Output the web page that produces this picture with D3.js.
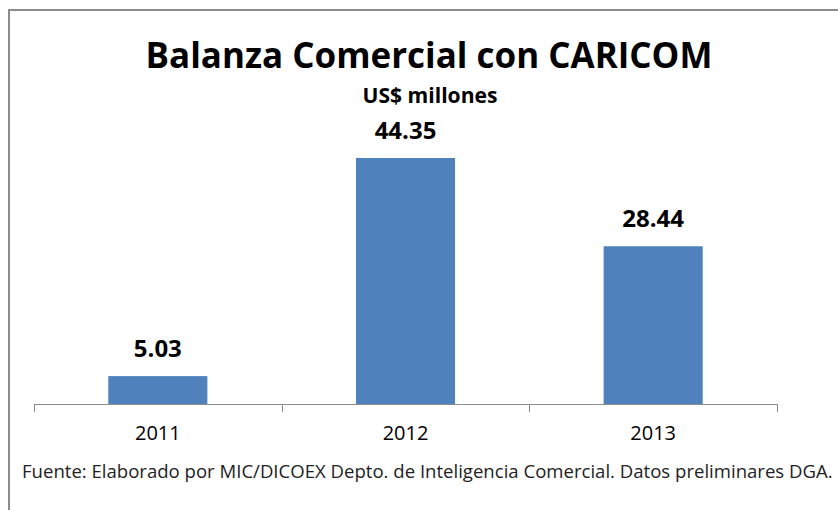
<!DOCTYPE html>
<html>
<head>
<meta charset="utf-8">
<script src="https://cdn.jsdelivr.net/npm/d3@7"></script>
<style>
  body { margin: 0; background: #fff; }
  svg text { font-family: "Open Sans", "Noto Sans", sans-serif; }
</style>
</head>
<body>
<div class="chart"></div>
<script>
var years = ["2011", "2012", "2013"];
var values = [5.03, 44.35, 28.44];
var valueLabels = ["5.03", "44.35", "28.44"];

var width = 838, height = 510;

var svg = d3.select('.chart').append('svg')
  .attr("width", width)
  .attr("height", height);

// outer frame (only top and left edges are visible in the picture)
svg.append('path')
  .attr('d', 'M9,' + height + 'V10H' + width)
  .attr('fill', 'none')
  .attr('stroke', '#8c8c8c')
  .attr('stroke-width', 2);

// squeeze/stretch a text node to a target width
function fit(sel, w) {
  var len = sel.node().getComputedTextLength();
  var fs = parseFloat(sel.style('font-size'));
  sel.style('font-size', (fs * w / len) + 'px');
}

var title = svg.append('text')
  .attr('x', 429).attr('y', 68)
  .attr('text-anchor', 'middle')
  .style('font-size', '36px')
  .style('font-weight', 'bold')
  .attr('fill', '#000')
  .text('Balanza Comercial con CARICOM');
fit(title, 567);

var sub = svg.append('text')
  .attr('x', 430).attr('y', 103)
  .attr('text-anchor', 'middle')
  .style('font-size', '18px')
  .style('font-weight', 'bold')
  .attr('fill', '#000')
  .text('US$ millones');
fit(sub, 135);

var x = d3.scaleBand()
  .domain(years)
  .range([34, 777])
  .paddingInner(0.6)
  .paddingOuter(0.3);

var y = d3.scaleLinear()
  .domain([0, 44.35])
  .range([404, 158]);

var xAxis = d3.axisBottom(x).tickSize(0).tickFormat('');

var axisG = svg.append('g')
  .attr('transform', 'translate(0,404)')
  .call(xAxis);
axisG.select('.domain').remove();

// baseline and ticks between categories
var step = x.step();
var bounds = d3.range(years.length + 1).map(function (i) { return 34 + i * step; });
axisG.append('line')
  .attr('x1', 34).attr('x2', 777)
  .attr('y1', 0.5).attr('y2', 0.5)
  .attr('stroke', '#8c8c8c');
axisG.selectAll('.tk')
  .data(bounds)
  .enter().append('line')
  .attr('class', 'tk')
  .attr('x1', function (d) { return Math.round(d) + 0.5; })
  .attr('x2', function (d) { return Math.round(d) + 0.5; })
  .attr('y1', 0).attr('y2', 8)
  .attr('stroke', '#8c8c8c');

svg.selectAll('.bar')
  .data(values)
  .enter().append('rect')
  .attr('class', 'bar')
  .attr('x', function (d, i) { return x(years[i]); })
  .attr('y', function (d) { return y(d); })
  .attr('width', x.bandwidth())
  .attr('height', function (d) { return y(0) - y(d); })
  .attr('fill', '#4f81bd');

svg.selectAll('.val')
  .data(values)
  .enter().append('text')
  .attr('class', 'val')
  .attr('x', function (d, i) { return x(years[i]) + x.bandwidth() / 2; })
  .attr('y', function (d) { return y(d) - 19; })
  .attr('text-anchor', 'middle')
  .style('font-size', '24px')
  .style('font-weight', 'bold')
  .attr('fill', '#000')
  .text(function (d, i) { return valueLabels[i]; });

svg.selectAll('.yr')
  .data(years)
  .enter().append('text')
  .attr('class', 'yr')
  .attr('x', function (d) { return x(d) + x.bandwidth() / 2; })
  .attr('y', 440)
  .attr('text-anchor', 'middle')
  .style('font-size', '20px')
  .attr('fill', '#000')
  .text(function (d) { return d; });

var foot = svg.append('text')
  .attr('x', 22).attr('y', 478)
  .style('font-size', '16px')
  .attr('fill', '#222')
  .text('Fuente: Elaborado por MIC/DICOEX Depto. de Inteligencia Comercial. Datos preliminares DGA.');
fit(foot, 811);
</script>
</body>
</html>
